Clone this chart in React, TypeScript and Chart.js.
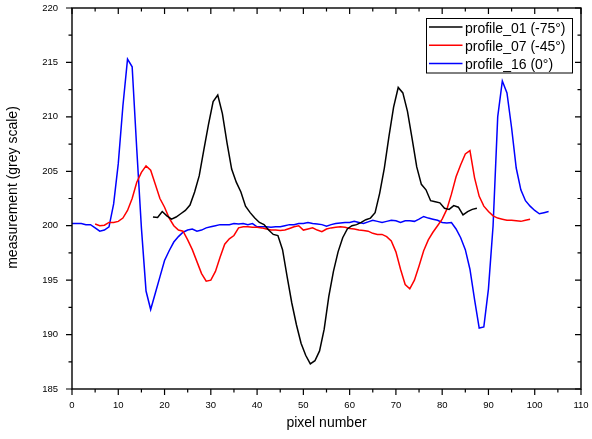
import { useEffect, useRef } from "react";
import { Chart, registerables } from "chart.js";

Chart.register(...registerables);

// ---- data ----
const seriesLabels = ["profile_01 (-75°)", "profile_07 (-45°)", "profile_16 (0°)"];
const seriesColors = ["#000000", "#ff0000", "#0000ff"];

const profile01Start = 17.5;
const profile01Values = [
  200.8, 200.75, 201.3, 200.9, 200.6, 200.8, 201.1, 201.4, 201.9, 203.1,
  204.6, 207.0, 209.3, 211.4, 212.0, 210.3, 207.6, 205.2, 204.0, 203.1,
  201.8, 201.2, 200.7, 200.3, 200.1, 199.6, 199.2, 199.1, 197.8, 195.3,
  192.9, 190.9, 189.2, 188.1, 187.3, 187.6, 188.5, 190.5, 193.5, 195.8,
  197.6, 198.9, 199.7, 200.0, 200.1, 200.3, 200.55, 200.7, 201.2, 203.0,
  205.3, 208.2, 210.9, 212.7, 212.2, 210.5, 208.0, 205.4, 203.8, 203.3,
  202.3, 202.2, 202.1, 201.6, 201.5, 201.85, 201.7, 201.0, 201.3, 201.5,
  201.6,
];

const profile07Start = 5;
const profile07Values = [
  200.15, 200.0, 200.05, 200.3, 200.3, 200.4, 200.7, 201.4, 202.5, 204.0,
  204.9, 205.5, 205.1, 203.8, 202.5, 201.7, 200.7, 200.0, 199.6, 199.5,
  198.7, 197.8, 196.7, 195.6, 194.9, 195.0, 195.8, 197.1, 198.3, 198.8,
  199.1, 199.8, 199.9, 199.9, 199.85, 199.85, 199.8, 199.7, 199.6, 199.6,
  199.55, 199.6, 199.75, 199.9, 200.0, 199.6, 199.7, 199.8, 199.6, 199.45,
  199.7, 199.8, 199.85, 199.9, 199.85, 199.75, 199.7, 199.6, 199.55, 199.5,
  199.3, 199.2, 199.2, 199.0, 198.6, 197.6, 196.0, 194.6, 194.2, 195.0,
  196.3, 197.7, 198.7, 199.4, 200.0, 200.6, 201.5, 202.9, 204.5, 205.6,
  206.6, 206.9, 204.4, 202.7, 201.8, 201.3, 200.9, 200.7, 200.6, 200.5,
  200.5, 200.45, 200.4, 200.5, 200.6,
];

const profile16Start = 0;
const profile16Values = [
  200.2, 200.2, 200.2, 200.1, 200.1, 199.8, 199.5, 199.6, 199.9, 202.0,
  205.7, 211.0, 215.3, 214.6, 207.0, 199.8, 194.0, 192.3, 193.8, 195.3,
  196.8, 197.7, 198.5, 199.0, 199.4, 199.6, 199.7, 199.5, 199.6, 199.8,
  199.9, 200.0, 200.1, 200.1, 200.1, 200.2, 200.15, 200.2, 200.1, 200.2,
  199.9, 199.9, 199.9, 199.85, 199.9, 199.9, 200.0, 200.1, 200.1, 200.2,
  200.2, 200.3, 200.2, 200.15, 200.1, 199.95, 200.1, 200.2, 200.25, 200.3,
  200.3, 200.4, 200.3, 200.2, 200.35, 200.5, 200.4, 200.3, 200.4, 200.5,
  200.45, 200.3, 200.45, 200.45, 200.4, 200.6, 200.85, 200.7, 200.6, 200.5,
  200.3, 200.25, 200.3, 199.7, 198.9, 197.8, 196.0, 193.2, 190.6, 190.7,
  194.2, 200.0, 210.0, 213.3, 212.2, 209.0, 205.3, 203.3, 202.3, 201.8,
  201.4, 201.1, 201.2, 201.3,
];

const xMin = 0;
const xMax = 110;
const xStep = 10;
const yMin = 185;
const yMax = 220;
const yStep = 5;
const xTitle = "pixel number";
const yTitle = "measurement (grey scale)";

const FONT = "'Liberation Sans', Arial, sans-serif";

function toPoints(start: number, values: number[]) {
  return values.map((v, i) => ({ x: start + i, y: v }));
}

const framePlugin = {
  id: "frameTicks",
  afterDatasetsDraw(chart: any) {
    const { ctx, chartArea } = chart;
    const { left, right, top, bottom } = chartArea;
    const xs = chart.scales.x;
    const ys = chart.scales.y;
    const major = 6;
    const minor = 3.5;
    ctx.save();
    ctx.strokeStyle = "#000";
    ctx.lineWidth = 1.4;
    ctx.strokeRect(left, top, right - left, bottom - top);
    ctx.lineWidth = 1.2;
    ctx.beginPath();
    const xt = xs.ticks.map((t: any) => t.value);
    xt.forEach((v: number, i: number) => {
      const px = xs.getPixelForValue(v);
      ctx.moveTo(px, bottom);
      ctx.lineTo(px, bottom + major);
      ctx.moveTo(px, top);
      ctx.lineTo(px, top + major);
      if (i < xt.length - 1) {
        const mp = xs.getPixelForValue((v + xt[i + 1]) / 2);
        ctx.moveTo(mp, bottom);
        ctx.lineTo(mp, bottom + minor);
        ctx.moveTo(mp, top);
        ctx.lineTo(mp, top + minor);
      }
    });
    const yt = ys.ticks.map((t: any) => t.value);
    yt.forEach((v: number, i: number) => {
      const py = ys.getPixelForValue(v);
      ctx.moveTo(left, py);
      ctx.lineTo(left - major, py);
      ctx.moveTo(right, py);
      ctx.lineTo(right - major, py);
      if (i < yt.length - 1) {
        const mp = ys.getPixelForValue((v + yt[i + 1]) / 2);
        ctx.moveTo(left, mp);
        ctx.lineTo(left - minor, mp);
        ctx.moveTo(right, mp);
        ctx.lineTo(right - minor, mp);
      }
    });
    ctx.stroke();

    // y-axis title
    ctx.fillStyle = "#000";
    ctx.font = `14px ${FONT}`;
    ctx.textAlign = "center";
    ctx.textBaseline = "middle";
    ctx.translate(13, 187.5);
    ctx.rotate(-Math.PI / 2);
    ctx.fillText(yTitle, 0, 0);
    ctx.restore();

    // legend
    ctx.save();
    const bx = right - 154.5;
    const by = top + 10.5;
    const bw = 146;
    const bh = 54.5;
    ctx.fillStyle = "#fff";
    ctx.fillRect(bx, by, bw, bh);
    ctx.strokeStyle = "#000";
    ctx.lineWidth = 1;
    ctx.strokeRect(bx, by, bw, bh);
    ctx.font = `14px ${FONT}`;
    ctx.textAlign = "left";
    ctx.textBaseline = "middle";
    chart.data.datasets.forEach((ds: any, i: number) => {
      const ry = by + 8.5 + i * 18.3;
      ctx.strokeStyle = ds.borderColor;
      ctx.lineWidth = 1.5;
      ctx.beginPath();
      ctx.moveTo(bx + 2.5, ry);
      ctx.lineTo(bx + 36, ry);
      ctx.stroke();
      ctx.fillStyle = "#000";
      ctx.fillText(ds.label, bx + 38.5, ry + 2);
    });
    ctx.restore();
  },
};

export default function App() {
  const ref = useRef<HTMLCanvasElement | null>(null);
  useEffect(() => {
    if (!ref.current) return;
    const makeDs = (i: number, pts: { x: number; y: number }[]) => ({
      label: seriesLabels[i],
      data: pts,
      borderColor: seriesColors[i],
      backgroundColor: seriesColors[i],
      borderWidth: 1.5,
      pointRadius: 0,
      tension: 0,
      fill: false,
    });
    const chart = new Chart(ref.current, {
      type: "line",
      data: {
        datasets: [
          makeDs(0, toPoints(profile01Start, profile01Values)),
          makeDs(1, toPoints(profile07Start, profile07Values)),
          makeDs(2, toPoints(profile16Start, profile16Values)),
        ],
      },
      options: {
        animation: false,
        responsive: false,
        devicePixelRatio: 1,
        layout: { padding: { top: 8, right: 11, left: 0, bottom: 0 } },
        plugins: { legend: { display: false }, tooltip: { enabled: false } },
        scales: {
          x: {
            type: "linear",
            min: xMin,
            max: xMax,
            ticks: {
              stepSize: xStep,
              autoSkip: false,
              maxRotation: 0,
              color: "#000",
              padding: 11,
              font: { family: FONT, size: 9.5 },
            },
            grid: { display: false, drawTicks: false },
            border: { display: false },
            title: {
              display: true,
              text: xTitle,
              color: "#000",
              font: { family: FONT, size: 14 },
              padding: { top: 0, bottom: 7 },
            },
            afterFit: (s: any) => {
              s.height = 50;
              s.paddingLeft = 0;
              s.paddingRight = 0;
            },
          },
          y: {
            type: "linear",
            min: yMin,
            max: yMax,
            ticks: {
              stepSize: yStep,
              color: "#000",
              padding: 14,
              font: { family: FONT, size: 9.5 },
            },
            grid: { display: false, drawTicks: false },
            border: { display: false },
            afterFit: (s: any) => {
              s.width = 72;
              s.paddingTop = 0;
              s.paddingBottom = 0;
            },
          },
        },
      } as any,
      plugins: [framePlugin],
    });
    return () => chart.destroy();
  }, []);
  return (
    <div style={{ position: "absolute", left: 0, top: 0, width: 592, height: 439, background: "#fff" }}>
      <canvas ref={ref} width={592} height={439} />
    </div>
  );
}
